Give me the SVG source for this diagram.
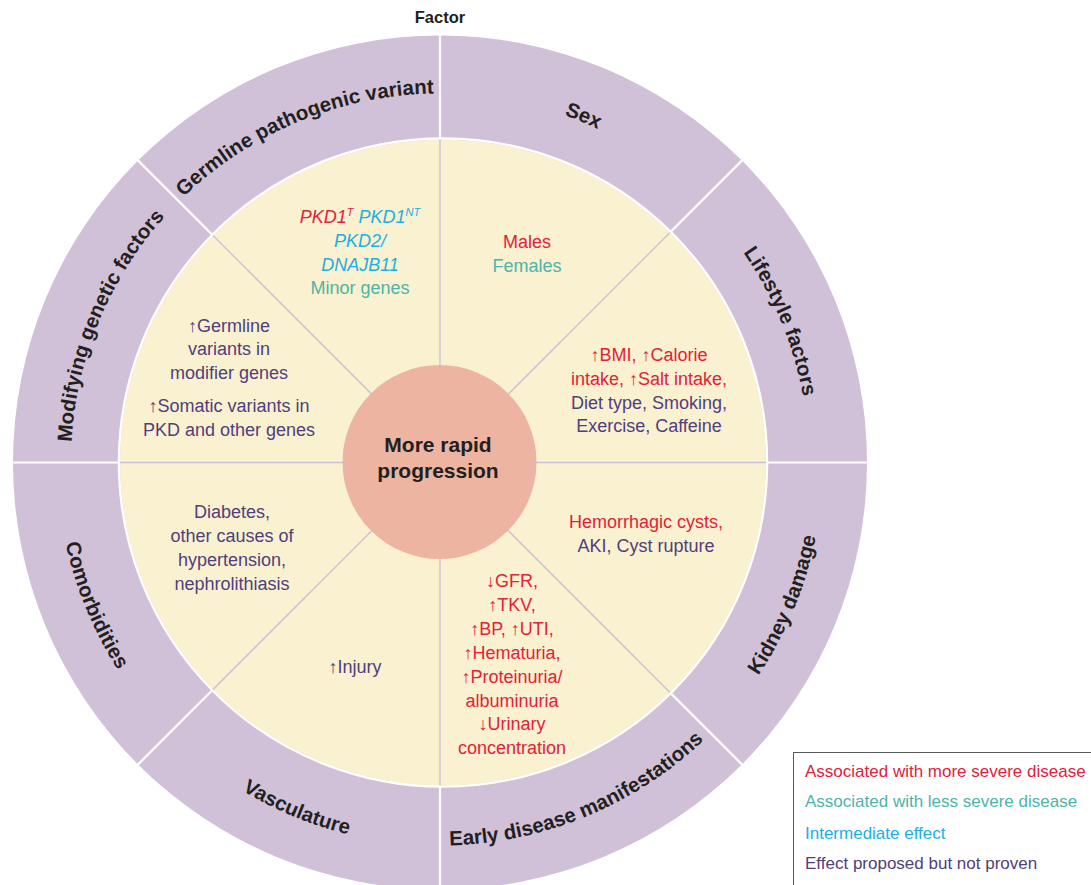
<svg xmlns="http://www.w3.org/2000/svg" width="1091" height="885" viewBox="0 0 1091 885">
<style>
text{font-family:"Liberation Sans",Arial,sans-serif;}
.lab{font-size:20.5px;font-weight:bold;fill:#231f20;}
.t{font-size:18px;text-anchor:middle;}
.leg{font-size:17px;}
.red{fill:#e2213a;}
.teal{fill:#4db4aa;}
.blue{fill:#1cafe3;}
.pur{fill:#4f407c;}
.it{font-style:italic;}
.sup{font-size:11px;}
.div{stroke:#c9bedb;stroke-width:1.3;}
.wdiv{stroke:#ffffff;stroke-width:2.2;}
</style>
<defs>
<clipPath id="yc"><circle cx="443" cy="462.5" r="323"/></clipPath>
<path id="cw" d="M 809,462.5 A 369 369 0 1 1 71,462.5 A 369 369 0 1 1 809,462.5"/>
<path id="ccw" d="M 823,462.5 A 383 383 0 1 0 57,462.5 A 383 383 0 1 0 823,462.5"/>
</defs>
<rect width="1091" height="885" fill="#ffffff"/>
<text x="440" y="23" text-anchor="middle" style="font-size:16.5px;font-weight:bold;fill:#231f20">Factor</text>
<g id="ring">
<circle cx="440" cy="462.5" r="427" fill="#d0c1d8"/>
</g>
<g id="connectors">
<g class="wdiv">
<line x1="440" y1="462.5" x2="868" y2="462.5"/>
<line x1="440" y1="462.5" x2="12" y2="462.5"/>
<line x1="440" y1="462.5" x2="440" y2="891"/>
<line x1="440" y1="462.5" x2="440" y2="34"/>
<line x1="440" y1="462.5" x2="742.6" y2="765.1"/>
<line x1="440" y1="462.5" x2="137.4" y2="765.1"/>
<line x1="440" y1="462.5" x2="742.6" y2="159.9"/>
<line x1="440" y1="462.5" x2="137.4" y2="159.9"/>
</g>
<circle cx="443" cy="462.5" r="324" fill="none" stroke="#ffffff" stroke-width="2.5"/>
<circle cx="443" cy="462.5" r="323" fill="#faf1d0"/>
<g class="div" clip-path="url(#yc)">
<line x1="440" y1="462.5" x2="800" y2="462.5"/>
<line x1="440" y1="462.5" x2="80" y2="462.5"/>
<line x1="440" y1="462.5" x2="440" y2="820"/>
<line x1="440" y1="462.5" x2="440" y2="100"/>
<line x1="440" y1="462.5" x2="700" y2="722.5"/>
<line x1="440" y1="462.5" x2="180" y2="722.5"/>
<line x1="440" y1="462.5" x2="700" y2="202.5"/>
<line x1="440" y1="462.5" x2="180" y2="202.5"/>
</g>
</g>
<g id="center">
<circle cx="439.5" cy="462" r="97" fill="#edb5a1"/>
<text x="438" y="452" text-anchor="middle" style="font-size:21px;font-weight:bold;fill:#231f20">More rapid</text>
<text x="438" y="478" text-anchor="middle" style="font-size:21px;font-weight:bold;fill:#231f20">progression</text>
</g>
<g id="germline">
<text class="lab"><textPath href="#cw" startOffset="68.75%" text-anchor="middle">Germline pathogenic variant</textPath></text>
<text class="t" x="360" y="223"><tspan class="it red">PKD1</tspan><tspan class="it red sup" dy="-7">T</tspan><tspan class="it blue" dy="7"> PKD1</tspan><tspan class="it blue sup" dy="-7">NT</tspan></text>
<text class="t it blue" x="360" y="247">PKD2/</text>
<text class="t it blue" x="360" y="271">DNAJB11</text>
<text class="t teal" x="360" y="294">Minor genes</text>
</g>
<g id="sex">
<text class="lab"><textPath href="#cw" startOffset="81.25%" text-anchor="middle">Sex</textPath></text>
<text class="t red" x="527" y="248">Males</text>
<text class="t teal" x="527" y="272">Females</text>
</g>
<g id="lifestyle">
<text class="lab"><textPath href="#cw" startOffset="93.75%" text-anchor="middle">Lifestyle factors</textPath></text>
<text class="t red" x="649" y="361">↑BMI, ↑Calorie</text>
<text class="t red" x="649" y="385">intake, ↑Salt intake,</text>
<text class="t pur" x="649" y="409">Diet type, Smoking,</text>
<text class="t pur" x="649" y="432">Exercise, Caffeine</text>
</g>
<g id="kidney">
<text class="lab"><textPath href="#ccw" startOffset="93.75%" text-anchor="middle">Kidney damage</textPath></text>
<text class="t red" x="646" y="528">Hemorrhagic cysts,</text>
<text class="t pur" x="646" y="552">AKI, Cyst rupture</text>
</g>
<g id="early">
<text class="lab"><textPath href="#ccw" startOffset="81.25%" text-anchor="middle">Early disease manifestations</textPath></text>
<text class="t red" x="512" y="587">↓GFR,</text>
<text class="t red" x="512" y="611">↑TKV,</text>
<text class="t red" x="512" y="635">↑BP, ↑UTI,</text>
<text class="t red" x="512" y="659">↑Hematuria,</text>
<text class="t red" x="512" y="683">↑Proteinuria/</text>
<text class="t red" x="512" y="707">albuminuria</text>
<text class="t red" x="512" y="730">↓Urinary</text>
<text class="t red" x="512" y="754">concentration</text>
</g>
<g id="vasculature">
<text class="lab"><textPath href="#ccw" startOffset="68.75%" text-anchor="middle">Vasculature</textPath></text>
<text class="t pur" x="355" y="673">↑Injury</text>
</g>
<g id="comorbidities">
<text class="lab"><textPath href="#ccw" startOffset="56.25%" text-anchor="middle">Comorbidities</textPath></text>
<text class="t pur" x="232" y="518">Diabetes,</text>
<text class="t pur" x="232" y="542">other causes of</text>
<text class="t pur" x="232" y="566">hypertension,</text>
<text class="t pur" x="232" y="590">nephrolithiasis</text>
</g>
<g id="modifying">
<text class="lab"><textPath href="#cw" startOffset="56.25%" text-anchor="middle">Modifying genetic factors</textPath></text>
<text class="t pur" x="229" y="332">↑Germline</text>
<text class="t pur" x="229" y="355">variants in</text>
<text class="t pur" x="229" y="379">modifier genes</text>
<text class="t pur" x="229" y="412">↑Somatic variants in</text>
<text class="t pur" x="229" y="436">PKD and other genes</text>
</g>
<g id="legend">
<rect x="793.5" y="752.5" width="310" height="150" fill="#ffffff" stroke="#58595b" stroke-width="1"/>
<text class="leg red" x="805" y="777">Associated with more severe disease</text>
<text class="leg teal" x="805" y="807">Associated with less severe disease</text>
<text class="leg blue" x="805" y="839">Intermediate effect</text>
<text class="leg pur" x="805" y="869">Effect proposed but not proven</text>
</g>
</svg>
